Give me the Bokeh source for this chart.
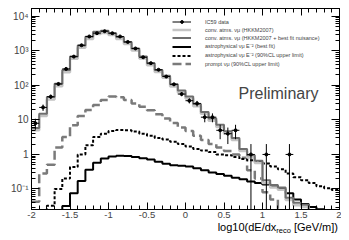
import numpy as np
from bokeh.plotting import figure
from bokeh.layouts import column
from bokeh.models import (Range1d, LinearAxis, LogAxis, SingleIntervalTicker, FixedTicker,
                          CustomJSTickFormatter, Label, Legend, LegendItem, ColumnDataSource, Div)
from bokeh.embed import file_html
from bokeh.resources import INLINE

# ---- data (40 bins of width 0.1 from -2 to 2) ----
bin_edges = [round(-2.0 + 0.1 * i, 2) for i in range(41)]
bin_centers = [round(-1.95 + 0.1 * i, 2) for i in range(40)]

ic59_data = [8, 23, 47, 110, 300, 680, 1450, 2600, 3240, 3700,
             3240, 2600, 1810, 1170, 650, 440, 283, 180, 107, 56,
             36, 30, 12, 12, 5, 4, 5, 0, 1, 0,
             1, 0, 0, 1, 0, 0, 0, 0, 0, 0]

conv_hkkm = [5.0, 13, 39, 95, 240, 590, 1220, 2200, 3050, 3300,
             2850, 2200, 1580, 1020, 600, 385, 245, 165, 93, 62,
             42, 25, 15, 9.5, 6.2, 4.0, 2.6, 1.25, 0.82, 0.57,
             0.15, 0.11, 0.095, 0.048, 0.034, 0.03, 0.02, 0.02, 0.02, 0.02]

conv_nuisance = [5.8, 15, 46, 112, 280, 690, 1420, 2570, 3540, 3800,
                 3240, 2500, 1800, 1170, 680, 440, 280, 190, 107, 71,
                 48, 29, 17, 11, 7.2, 4.7, 3.0, 1.45, 0.95, 0.66,
                 0.18, 0.13, 0.11, 0.056, 0.04, 0.035, 0.02, 0.02, 0.02, 0.02]

astro_best = [0.01, 0.01, 0.01, 0.012, 0.032, 0.075, 0.17, 0.36, 0.58, 0.76,
              0.87, 0.92, 0.9, 0.85, 0.78, 0.71, 0.62, 0.54, 0.49, 0.47,
              0.45, 0.4, 0.35, 0.3, 0.27, 0.24, 0.21, 0.19, 0.165, 0.15,
              0.135, 0.12, 0.1, 0.075, 0.05, 0.037, 0.03, 0.026, 0.022, 0.02]

astro_ul = [0.006, 0.012, 0.033, 0.10, 0.20, 0.43, 1.0, 1.85, 3.2, 4.0,
            4.8, 5.1, 5.0, 4.6, 4.0, 3.5, 3.0, 2.7, 2.35, 2.0,
            1.7, 1.45, 1.3, 1.17, 1.0, 0.95, 0.85, 0.74, 0.68, 0.62,
            0.55, 0.45, 0.37, 0.28, 0.22, 0.18, 0.15, 0.12, 0.105, 0.093]

prompt_ul = [0.043, 0.28, 0.5, 1.6, 3.2, 7.0, 13, 19.5, 27, 38,
             48, 45, 38, 30, 24, 19, 14.5, 11, 8.2, 6.0,
             4.8, 3.5, 2.6, 2.0, 1.6, 1.25, 1.0, 0.8, 0.35, 0.2,
             0.08, 0.05, 0.02, 0.02, 0.02, 0.02, 0.02, 0.02, 0.02, 0.02]

x_tick_labels = {-2: "-2", -1.5: "-1.5", -1: "-1", -0.5: "-0.5", 0: "0",
                 0.5: "0.5", 1: "1", 1.5: "1.5", 2: "2"}
y_major = [0.1, 1, 10, 100, 1000, 10000]

FONT = "Liberation Sans"

p = figure(width=341, height=222, x_range=Range1d(-2, 2), y_range=Range1d(0.0255, 16800),
           y_axis_type="log", output_backend="svg", toolbar_location=None,
           min_border_left=31, min_border_right=2, min_border_top=8, min_border_bottom=13)
p.xgrid.visible = False
p.ygrid.visible = False
p.outline_line_color = "black"
p.outline_line_alpha = 1
p.outline_line_width = 1
p.background_fill_color = "white"
p.border_fill_color = "white"

# axes
xticker = SingleIntervalTicker(interval=0.5, num_minor_ticks=5)
yminor = [m * 10.0 ** e for e in range(-2, 5) for m in range(2, 10)]
yticker = FixedTicker(ticks=y_major, minor_ticks=yminor)

xa = p.xaxis[0]
xa.ticker = xticker
xa.major_label_overrides = x_tick_labels
xa.major_label_text_font = FONT
xa.major_label_text_font_size = "9.5px"
xa.major_label_standoff = 2
xa.major_tick_in = 7
xa.major_tick_out = 0
xa.minor_tick_in = 4
xa.minor_tick_out = 0
xa.axis_line_color = "black"

ya = p.yaxis[0]
ya.ticker = yticker
ya.formatter = CustomJSTickFormatter(code="""
const e = Math.round(Math.log10(tick));
if (e === 0) return "1";
if (e === 1) return "10";
const sup = {"-": "⁻", "0": "⁰", "1": "¹", "2": "²", "3": "³", "4": "⁴",
             "5": "⁵", "6": "⁶", "7": "⁷", "8": "⁸", "9": "⁹"};
return "10" + String(e).split("").map(c => sup[c]).join("");
""")
ya.major_label_text_font = FONT
ya.major_label_text_font_size = "10px"
ya.major_label_standoff = 3
ya.major_tick_in = 8
ya.major_tick_out = 0
ya.minor_tick_in = 4
ya.minor_tick_out = 0
ya.axis_line_color = "black"

top = LinearAxis(ticker=xticker, major_label_text_font_size="1px", major_label_text_alpha=0,
                 major_label_standoff=0,
                 major_tick_in=7, major_tick_out=0, minor_tick_in=4, minor_tick_out=0)
p.add_layout(top, "above")
right = LogAxis(ticker=yticker, major_label_text_font_size="1px", major_label_text_alpha=0,
                major_label_standoff=0,
                major_tick_in=8, major_tick_out=0, minor_tick_in=4, minor_tick_out=0)
p.add_layout(right, "right")

def steps(vals):
    return list(vals) + [vals[-1]]

r_prompt = p.step(bin_edges, steps(prompt_ul), mode="after", line_color="#7a7a7a",
                  line_width=2.5, line_dash="9 4")
r_ul = p.step(bin_edges, steps(astro_ul), mode="after", line_color="black",
              line_width=2, line_dash="3 2")
r_best = p.step(bin_edges, steps(astro_best), mode="after", line_color="black", line_width=2)
r_hkkm = p.step(bin_edges, steps(conv_hkkm), mode="after", line_color="#c4c4c4", line_width=2.5)
r_nuis = p.step(bin_edges, steps(conv_nuisance), mode="after", line_color="#6e6e6e", line_width=2)

n = np.array(ic59_data, dtype=float)
c = np.array(bin_centers)
m = n > 0
err = np.sqrt(n)
lo = np.where(n - err > 0, n - err, 1e-3)
src = ColumnDataSource(dict(x=c[m], y=n[m], lo=lo[m], hi=(n + err)[m],
                            x0=(c - 0.05)[m], x1=(c + 0.05)[m]))
p.segment(x0="x", y0="lo", x1="x", y1="hi", source=src, line_color="black", line_width=1)
r_hbar = p.segment(x0="x0", y0="y", x1="x1", y1="y", source=src, line_color="black", line_width=1)
r_pts = p.scatter("x", "y", source=src, size=3, color="black")

legend = Legend(items=[
    LegendItem(label="IC59 data", renderers=[r_hbar, r_pts]),
    LegendItem(label="conv. atms. νμ (HKKM2007)", renderers=[r_hkkm]),
    LegendItem(label="conv. atms. νμ (HKKM2007 + best fit nuisance)", renderers=[r_nuis]),
    LegendItem(label="astrophysical νμ E⁻² (best fit)", renderers=[r_best]),
    LegendItem(label="astrophysical νμ E⁻² (90%CL upper limit)", renderers=[r_ul]),
    LegendItem(label="prompt νμ (90%CL upper limit)", renderers=[r_prompt]),
], location=(141, 142), padding=0, margin=0, spacing=1, label_height=7, glyph_height=7,
    glyph_width=19, label_standoff=14, label_text_font=FONT, label_text_font_size="5.5px",
    border_line_alpha=0, background_fill_alpha=0)
p.add_layout(legend)

p.add_layout(Label(x=207, y=116, x_units="screen", y_units="screen", text="Preliminary",
                   text_font=FONT, text_font_size="16px", text_baseline="alphabetic"))

# y axis title
p.add_layout(Label(x=-24, y=207, x_units="screen", y_units="screen", text="events", angle=np.pi / 2,
                   text_font=FONT, text_font_size="8.5px", text_align="right",
                   text_baseline="alphabetic"))

# x axis title (with subscript) as HTML below the plot
xtitle = Div(text='log10(dE/dx<sub style="font-size:7.5px;vertical-align:-2px;line-height:0">reco</sub> [GeV/m])',
             width=341, height=10, margin=(0, 0, 0, 0),
             styles={"font-family": FONT, "font-size": "11px", "line-height": "10px",
                     "text-align": "right", "padding-right": "3px", "color": "black",
                     "white-space": "nowrap", "box-sizing": "border-box", "width": "341px"})

layout = column(p, xtitle, spacing=0)
open("out.html", "w").write(file_html(layout, INLINE))
